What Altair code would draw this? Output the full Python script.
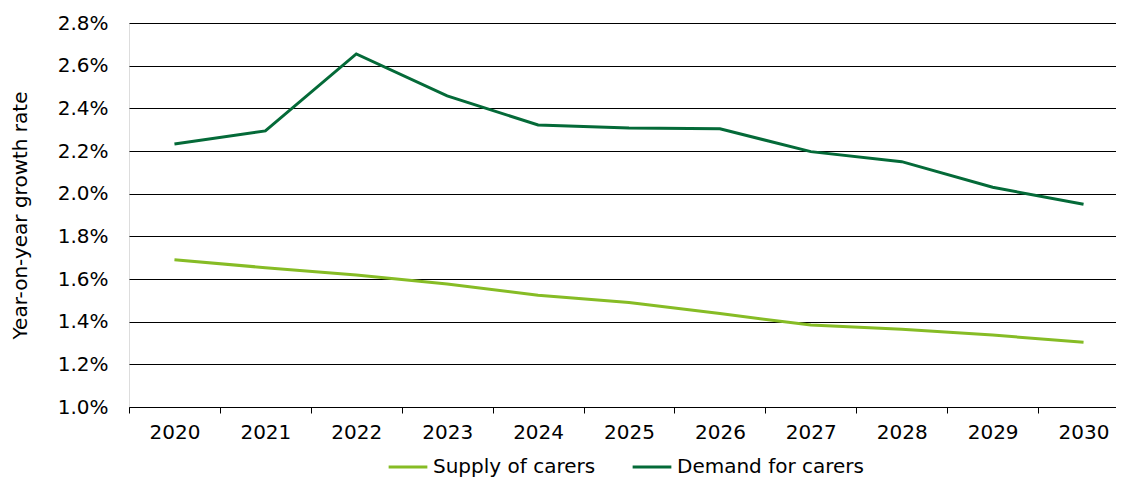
import altair as alt
import pandas as pd

years = ["2020", "2021", "2022", "2023", "2024", "2025", "2026", "2027", "2028", "2029", "2030"]
supply = [1.690, 1.653, 1.619, 1.577, 1.524, 1.490, 1.438, 1.384, 1.365, 1.337, 1.304]
demand = [2.233, 2.294, 2.655, 2.458, 2.322, 2.308, 2.304, 2.197, 2.150, 2.030, 1.950]
series_names = ["Supply of carers", "Demand for carers"]
series_colors = ["#86BC25", "#046A38"]
y_ticks = [1.0, 1.2, 1.4, 1.6, 1.8, 2.0, 2.2, 2.4, 2.6, 2.8]

rows = []
for name, vals in zip(series_names, [supply, demand]):
    for yr, v in zip(years, vals):
        rows.append({"year": yr, "value": v, "series": name})
df = pd.DataFrame(rows)

FONT = "DejaVu Sans"

chart = alt.Chart(df).mark_line(strokeWidth=3).encode(
    x=alt.X(
        "year:N",
        sort=years,
        scale=alt.Scale(range=[0, 1000], paddingInner=0, paddingOuter=0),
        axis=alt.Axis(
            title=None,
            labelAngle=0,
            labelFontSize=20,
            labelFont=FONT,
            labelColor="#000000",
            labelPadding=9,
            domainColor="#000000",
            domainWidth=1,
            tickColor="#000000",
            tickSize=6,
            tickBand="extent",
            grid=False,
        ),
    ),
    y=alt.Y(
        "value:Q",
        scale=alt.Scale(domain=[1.0, 2.8], nice=False, zero=False),
        axis=alt.Axis(
            title="Year-on-year growth rate",
            titleFont=FONT,
            titleFontSize=20,
            titleFontWeight="normal",
            titleColor="#000000",
            titlePadding=27,
            values=y_ticks,
            labelExpr="format(datum.value, '.1f') + '%'",
            labelFont=FONT,
            labelFontSize=20,
            labelColor="#000000",
            labelPadding=21,
            ticks=False,
            domain=False,
            grid=True,
            gridColor="#000000",
            gridWidth=1,
        ),
    ),
    color=alt.Color(
        "series:N",
        scale=alt.Scale(domain=series_names, range=series_colors),
        sort=series_names,
        legend=alt.Legend(
            title=None,
            orient="none",
            legendX=258,
            legendY=423,
            direction="horizontal",
            symbolType="stroke",
            symbolStrokeWidth=3,
            symbolSize=1500,
            labelFont=FONT,
            labelFontSize=20,
            labelColor="#000000",
            labelLimit=0,
            labelOffset=4,
            columnPadding=30,
        ),
    ),
).properties(
    width=987,
    height=384,
    autosize=alt.AutoSizeParams(type="none"),
    padding={"left": 121, "top": 15, "right": 0, "bottom": 70},
).configure_view(stroke=None).configure(background="white")

chart.save("out.html", embed_options={"renderer": "svg", "actions": False})
